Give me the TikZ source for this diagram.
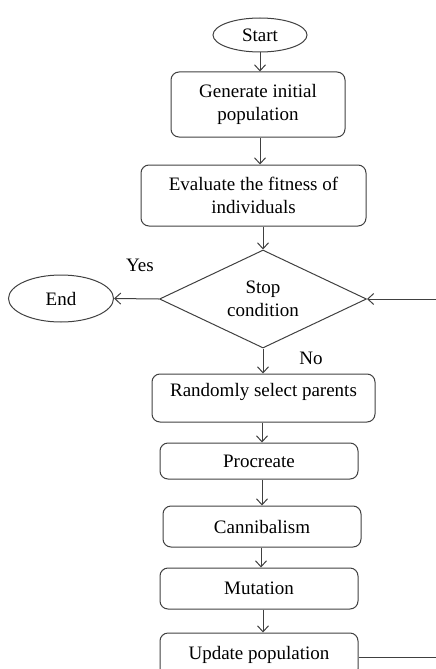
\documentclass[tikz,border=0pt]{standalone}
\usepackage{fontspec}
\setmainfont{Liberation Serif}
\usetikzlibrary{shapes.geometric,arrows.meta}
\begin{document}
\begin{tikzpicture}[x=1pt,y=-1pt,
  every node/.style={font=\fontsize{19}{23}\selectfont, text=black},
  ln/.style={draw=black!75, line width=1pt},
  arr/.style={ln, -{Straight Barb[length=6pt,width=11pt,line width=1pt]}},
  pbox/.style={ln, rectangle, rounded corners=8pt, align=center, inner sep=0pt},
  term/.style={ln, ellipse, inner sep=0pt},
  lbl/.style={inner sep=0pt}
]
\useasboundingbox (0,0) rectangle (436,669);
\clip (0,0) rectangle (436,669);
\node[term, minimum width=94pt, minimum height=34pt] (start) at (260,35) {Start};
\node[pbox, minimum width=174pt, minimum height=65pt] (gen) at (258,104.5) {Generate initial\\population};
\node[pbox, minimum width=225pt, minimum height=61pt] (eval) at (253.5,195.5) {Evaluate the fitness of\\individuals};
\node[ln, diamond, inner sep=0pt, aspect=2.11, minimum width=207pt, minimum height=98pt, align=center] (stop) at (263,299) {Stop\\condition};
\node[term, minimum width=105pt, minimum height=47pt] (end) at (61,298.5) {End};
\node[pbox, minimum width=223pt, minimum height=48pt, text height=13pt, text depth=17pt] (rand) at (263.5,398) {Randomly select parents};
\node[pbox, minimum width=198pt, minimum height=36pt] (proc) at (259,461) {Procreate};
\node[pbox, minimum width=198pt, minimum height=41pt] (cann) at (262,526.5) {Cannibalism};
\node[pbox, minimum width=198pt, minimum height=41pt] (mut) at (259,588.5) {Mutation};
\node[pbox, minimum width=198pt, minimum height=44pt] (upd) at (259,655) {Update population};
\node[lbl] (yes) at (140,265) {Yes};
\node[lbl] (no) at (311,358) {No};
\coordinate (r1) at (460,657);
\coordinate (r2) at (460,299);
\draw[arr] (start.south) -- (start.south |- gen.north);
\draw[arr] (gen.south -| start.south) -- (start.south |- eval.north);
\draw[arr] (stop.north |- eval.south) -- (stop.north);
\draw[arr] (stop.west) -- (end.east);
\draw[arr] (stop.south) -- (stop.south |- rand.north);
\draw[arr] (rand.south -| 262,0) -- (262,0 |- proc.north);
\draw[arr] (proc.south -| 262,0) -- (262,0 |- cann.north);
\draw[arr] (cann.south -| 261,0) -- (261,0 |- mut.north);
\draw[arr] (mut.south -| 263,0) -- (263,0 |- upd.north);
\draw[arr] (upd.east |- r1) -- (r1) -- (r2) -- (stop.east);
\end{tikzpicture}
\end{document}
